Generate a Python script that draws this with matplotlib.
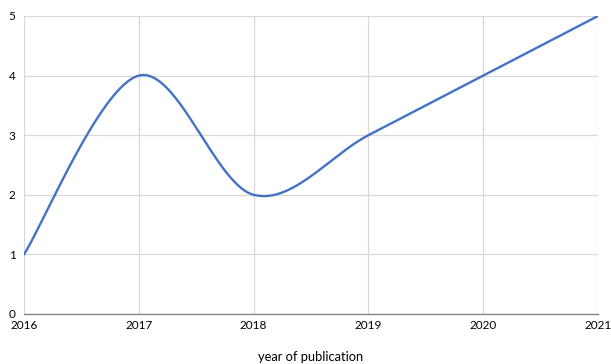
import numpy as np
import matplotlib.pyplot as plt

years = [2016, 2017, 2018, 2019, 2020, 2021]
counts = [1, 4, 2, 3, 4, 5]


def smooth(xs, ys, n=60):
    # cubic bezier through the points, control points like a spreadsheet "smoothed line"
    x = np.array(xs, dtype=float)
    y = np.array(ys, dtype=float)
    px = np.concatenate([[x[0]], x, [x[-1]]])
    py = np.concatenate([[y[0]], y, [y[-1]]])
    outx, outy = [], []
    t = np.linspace(0, 1, n)
    for i in range(len(x) - 1):
        p0 = np.array([x[i], y[i]])
        p3 = np.array([x[i + 1], y[i + 1]])
        p1 = p0 + (np.array([px[i + 2], py[i + 2]]) - np.array([px[i], py[i]])) / 6
        p2 = p3 - (np.array([px[i + 3], py[i + 3]]) - np.array([px[i + 1], py[i + 1]])) / 6
        b = ((1 - t) ** 3)[:, None] * p0 + (3 * (1 - t) ** 2 * t)[:, None] * p1 \
            + (3 * (1 - t) * t ** 2)[:, None] * p2 + (t ** 3)[:, None] * p3
        outx.extend(b[:, 0])
        outy.extend(b[:, 1])
    return outx, outy


plt.rcParams['font.family'] = ['Lato', 'DejaVu Sans']

fig = plt.figure(figsize=(6.11, 3.64), dpi=100)
ax = fig.add_axes([24 / 611, 50 / 364, 574 / 611, 298 / 364])

sx, sy = smooth(years, counts)
ax.plot(sx, sy, color='#4472C4', lw=1.7, solid_capstyle='round', zorder=3)

ax.set_xlim(2016, 2021)
ax.set_ylim(0, 5)
ax.set_xticks(years)
ax.set_yticks(range(0, 6))
ax.grid(True, color='#d9d9d9', lw=0.9)
ax.set_axisbelow(True)
for side in ['top', 'right', 'left']:
    ax.spines[side].set_visible(False)
ax.spines['bottom'].set_color('#7f7f7f')
ax.spines['bottom'].set_linewidth(0.9)
ax.tick_params(length=0, labelsize=8.5, colors='#000000')
ax.tick_params(axis='x', pad=4)
ax.tick_params(axis='y', pad=6)
ax.set_xlabel('year of publication', fontsize=9.3, labelpad=15)

fig.savefig('out.png', dpi=100)
